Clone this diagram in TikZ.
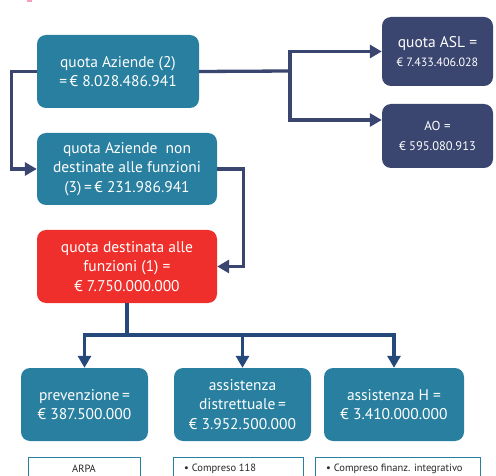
\documentclass[tikz,border=0pt]{standalone}
\usepackage{fontspec}
\setmainfont{PT Sans}
\usetikzlibrary{arrows.meta}
\definecolor{teal1}{HTML}{287F9F}
\definecolor{navy1}{HTML}{3A4570}
\definecolor{navy2}{HTML}{25497A}
\definecolor{red1}{HTML}{EE2F2B}
\definecolor{pink1}{HTML}{F4A0B8}
\tikzset{
  box/.style={rounded corners=9pt, text=white, align=center, inner sep=2pt, font=\fontsize{15.5}{19.5}\selectfont},
  tealbox/.style={box, fill=teal1},
  navybox/.style={box, fill=navy1},
  redbox/.style={box, fill=red1},
  notebox/.style={draw=teal1, line width=1pt, fill=white, inner sep=0pt},
  notetext/.style={font=\fontsize{10.5}{12}\selectfont, text=black!85, inner sep=0pt},
  conn/.style={draw=navy1, line width=3.3pt},
  connb/.style={draw=navy2, line width=3.3pt},
  tip/.style={-{Triangle[length=12pt,width=13pt]}}
}
\begin{document}
\begin{tikzpicture}[x=1pt,y=-1pt]
\useasboundingbox (0,0) rectangle (496,476);
\fill[pink1] (27,0) rectangle (32,2);
% boxes
\node[tealbox, minimum width=162pt, minimum height=73pt] (b1) at (118,71.5) {quota Aziende (2)\\=\,€ 8.028.486.941};
\node[tealbox, minimum width=180pt, minimum height=72pt] (b2) at (127,169) {quota Aziende\ \ non\\destinate alle funzioni\\(3)\,=\,€ 231.986.941};
\node[redbox, minimum width=180pt, minimum height=73pt] (r) at (127,266.5) {quota destinata alle\\funzioni (1) =\\€ 7.750.000.000};
\node[navybox, minimum width=111pt, minimum height=69pt] (asl) at (437.5,51.5) {quota ASL =\\{\fontsize{12}{16}\selectfont € 7.433.406.028}};
\node[navybox, minimum width=111pt, minimum height=64pt] (ao) at (437.5,136) {{\fontsize{13}{17}\selectfont AO =}\\{\fontsize{12.5}{16}\selectfont € 595.080.913}};
\node[tealbox, minimum width=127pt, minimum height=73pt] (pa) at (84.5,404.5) {prevenzione\,=\\€ 387.500.000};
\node[tealbox, minimum width=137pt, minimum height=73pt] (pb) at (242.5,404.5) {assistenza\\distrettuale\,=\\€ 3.952.500.000};
\node[tealbox, minimum width=140pt, minimum height=73pt] (pc) at (394,404.5) {assistenza H =\\€ 3.410.000.000};
% note boxes
\node[notebox, minimum width=112pt, minimum height=34pt, anchor=north west] (na) at (28,457) {};
\node[notebox, minimum width=130pt, minimum height=34pt, anchor=north west] (nb) at (173,457) {};
\node[notebox, minimum width=165pt, minimum height=34pt, anchor=north west] (nc) at (315,457) {};
\node[notetext] (ta) at (84,469) {ARPA};
\node[notetext, anchor=west] (tb) at (184,469) {• Compreso 118};
\node[notetext, anchor=west] (tc) at (326,469) {• Compreso finanz. integrativo};
% connectors
\draw[conn, tip] (b1.west) -- ++(-25,0) |- (b2.west);
\coordinate (s) at (290,71);
\draw[conn] (b1.east) -- (s);
\draw[conn, tip] (s) |- (asl.west);
\draw[conn, tip] (s) |- ([yshift=16pt]ao.west);
\draw[conn, tip] (b2.east) -- ++(26,0) |- (r.east);
\coordinate (j) at (127,335);
\draw[connb] (r.south) -- (j);
\draw[connb, tip] (j) -| (pa.north);
\draw[connb, tip] (j) -| (pb.north);
\draw[connb, tip] (j) -| (pc.north);
\end{tikzpicture}
\end{document}
